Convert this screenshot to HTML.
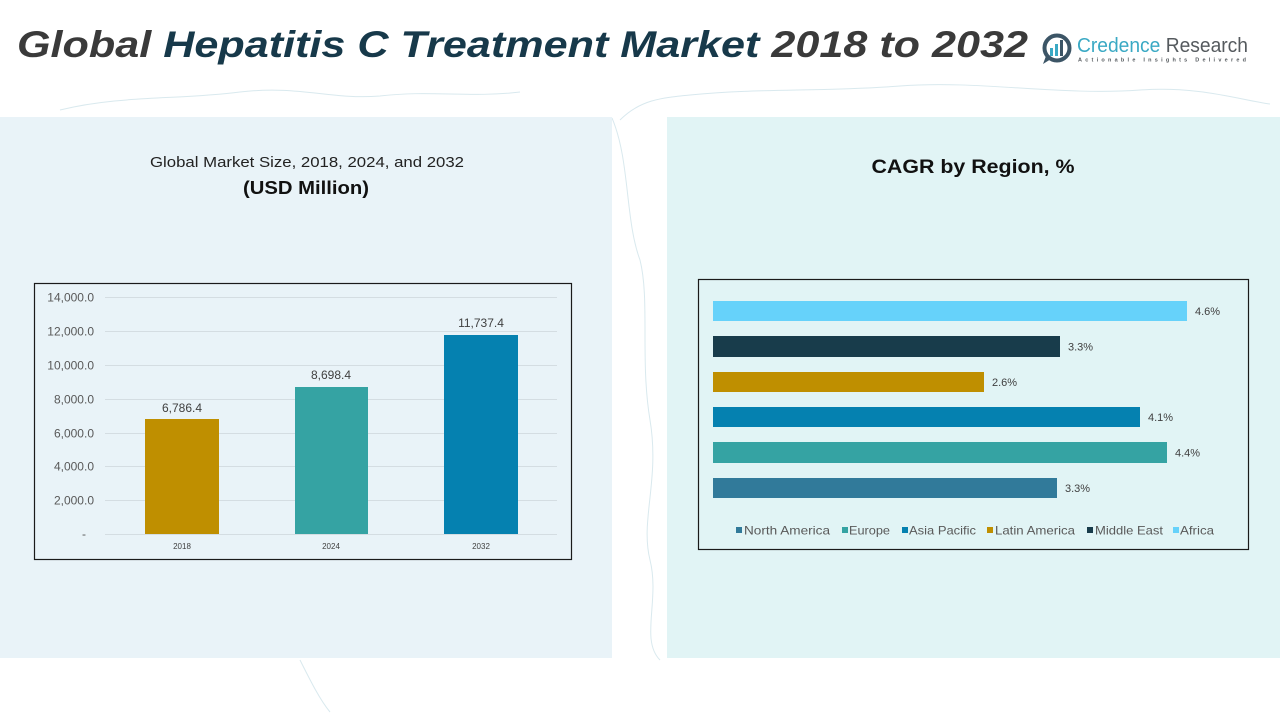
<!DOCTYPE html>
<html>
<head>
<meta charset="utf-8">
<style>
  html,body{margin:0;padding:0;background:#ffffff;}
  body{width:1280px;height:720px;overflow:hidden;}
  svg{display:block;}
  text{font-family:"Liberation Sans", sans-serif;}
</style>
</head>
<body>
<svg width="1280" height="720" viewBox="0 0 1280 720" xmlns="http://www.w3.org/2000/svg">
  <rect x="0" y="0" width="1280" height="720" fill="#ffffff"/>

  <!-- faint map-like strokes in background -->
  <g fill="none" stroke="#cfe3ea" stroke-width="1" opacity="0.8">
    <path d="M60 110 C120 95 180 100 240 92 C300 85 330 100 380 96 C430 90 470 98 520 92"/>
    <path d="M620 120 C640 100 660 98 690 95 C760 88 820 92 900 86 C980 80 1060 96 1140 90 C1200 86 1240 100 1270 104"/>
    <path d="M612 118 C630 160 625 220 640 260 C650 300 640 360 650 420 C660 480 640 520 650 560 C660 600 640 640 660 660"/>
    <path d="M300 660 C310 680 320 700 330 712"/>
  </g>

  <!-- panels -->
  <rect x="0" y="117" width="612" height="541" fill="#e9f3f8"/>
  <rect x="667" y="117" width="613" height="541" fill="#e1f4f5"/>

  <!-- Title -->
  <text x="17" y="57" font-size="37" font-weight="bold" font-style="italic" textLength="1011" lengthAdjust="spacingAndGlyphs"><tspan fill="#3a3a3a">Global </tspan><tspan fill="#17394a">Hepatitis C Treatment Market </tspan><tspan fill="#3a3a3a">2018 to 2032</tspan></text>

  <!-- Logo -->
  <g>
    <circle cx="1057" cy="48" r="12.5" fill="none" stroke="#3c5566" stroke-width="4"/>
    <path d="M1046 56 L1043 64 L1051 59 Z" fill="#3c5566"/>
    <rect x="1050" y="48" width="3" height="8" fill="#3aa9c4"/>
    <rect x="1055" y="44" width="3" height="12" fill="#3aa9c4"/>
    <rect x="1060" y="40" width="3" height="16" fill="#3c5566"/>
    <text x="1077" y="52" font-size="20" textLength="171" lengthAdjust="spacingAndGlyphs"><tspan fill="#3aa9c4">Credence </tspan><tspan fill="#555a5e">Research</tspan></text>
    <text x="1078" y="61.5" font-size="5.5" font-weight="bold" fill="#555a5e" textLength="168" lengthAdjust="spacing">Actionable Insights Delivered</text>
  </g>

  <!-- Left panel titles -->
  <text x="307" y="167" font-size="15" fill="#222222" text-anchor="middle" textLength="314" lengthAdjust="spacingAndGlyphs">Global Market Size, 2018, 2024, and 2032</text>
  <text x="306" y="194" font-size="18" font-weight="bold" fill="#111111" text-anchor="middle" textLength="126" lengthAdjust="spacingAndGlyphs">(USD Million)</text>

  <!-- Right panel title -->
  <text x="973" y="173" font-size="19" font-weight="bold" fill="#111111" text-anchor="middle" textLength="203" lengthAdjust="spacingAndGlyphs">CAGR by Region, %</text>

  <!-- Left chart -->
  <rect x="34.5" y="283.5" width="537" height="276" fill="none" stroke="#1a1a1a" stroke-width="1.2"/>
  <g stroke="#d4dde2" stroke-width="1">
    <line x1="105" y1="297.5" x2="557" y2="297.5"/>
    <line x1="105" y1="331.5" x2="557" y2="331.5"/>
    <line x1="105" y1="365.5" x2="557" y2="365.5"/>
    <line x1="105" y1="399.5" x2="557" y2="399.5"/>
    <line x1="105" y1="433.5" x2="557" y2="433.5"/>
    <line x1="105" y1="466.5" x2="557" y2="466.5"/>
    <line x1="105" y1="500.5" x2="557" y2="500.5"/>
    <line x1="105" y1="534.5" x2="557" y2="534.5"/>
  </g>
  <g font-size="12" fill="#595959" text-anchor="end">
    <text x="94" y="301.5">14,000.0</text>
    <text x="94" y="335.5">12,000.0</text>
    <text x="94" y="369.5">10,000.0</text>
    <text x="94" y="403.5">8,000.0</text>
    <text x="94" y="437.5">6,000.0</text>
    <text x="94" y="470.5">4,000.0</text>
    <text x="94" y="504.5">2,000.0</text>
    <text x="86" y="538">-</text>
  </g>
  <rect x="145" y="419" width="74" height="115" fill="#bf8f00"/>
  <rect x="295" y="387" width="73" height="147" fill="#35a3a3"/>
  <rect x="444" y="335" width="74" height="199" fill="#0581b0"/>
  <g font-size="12" fill="#404040" text-anchor="middle">
    <text x="182" y="412">6,786.4</text>
    <text x="331" y="379">8,698.4</text>
    <text x="481" y="327">11,737.4</text>
  </g>
  <g font-size="8" fill="#404040" text-anchor="middle">
    <text x="182" y="549">2018</text>
    <text x="331" y="549">2024</text>
    <text x="481" y="549">2032</text>
  </g>

  <!-- Right chart -->
  <rect x="698.5" y="279.5" width="550" height="270" fill="none" stroke="#1a1a1a" stroke-width="1.2"/>
  <rect x="713" y="301" width="474" height="20" fill="#66d2fa"/>
  <rect x="713" y="336" width="347" height="21" fill="#183c4b"/>
  <rect x="713" y="372" width="271" height="20" fill="#bf8f00"/>
  <rect x="713" y="407" width="427" height="20" fill="#0581b0"/>
  <rect x="713" y="442" width="454" height="21" fill="#35a3a3"/>
  <rect x="713" y="478" width="344" height="20" fill="#317a9a"/>
  <g font-size="11" fill="#404040">
    <text x="1195" y="315">4.6%</text>
    <text x="1068" y="350.5">3.3%</text>
    <text x="992" y="386">2.6%</text>
    <text x="1148" y="421">4.1%</text>
    <text x="1175" y="456.5">4.4%</text>
    <text x="1065" y="492">3.3%</text>
  </g>
  <!-- Legend -->
  <g font-size="12" fill="#595959">
    <rect x="736" y="527" width="6" height="6" fill="#317a9a"/>
    <text x="744" y="534.5" textLength="86" lengthAdjust="spacingAndGlyphs">North America</text>
    <rect x="842" y="527" width="6" height="6" fill="#35a3a3"/>
    <text x="849" y="534.5" textLength="41" lengthAdjust="spacingAndGlyphs">Europe</text>
    <rect x="902" y="527" width="6" height="6" fill="#0581b0"/>
    <text x="909" y="534.5" textLength="67" lengthAdjust="spacingAndGlyphs">Asia Pacific</text>
    <rect x="987" y="527" width="6" height="6" fill="#bf8f00"/>
    <text x="995" y="534.5" textLength="80" lengthAdjust="spacingAndGlyphs">Latin America</text>
    <rect x="1087" y="527" width="6" height="6" fill="#183c4b"/>
    <text x="1095" y="534.5" textLength="68" lengthAdjust="spacingAndGlyphs">Middle East</text>
    <rect x="1173" y="527" width="6" height="6" fill="#66d2fa"/>
    <text x="1180" y="534.5" textLength="34" lengthAdjust="spacingAndGlyphs">Africa</text>
  </g>
</svg>
</body>
</html>
